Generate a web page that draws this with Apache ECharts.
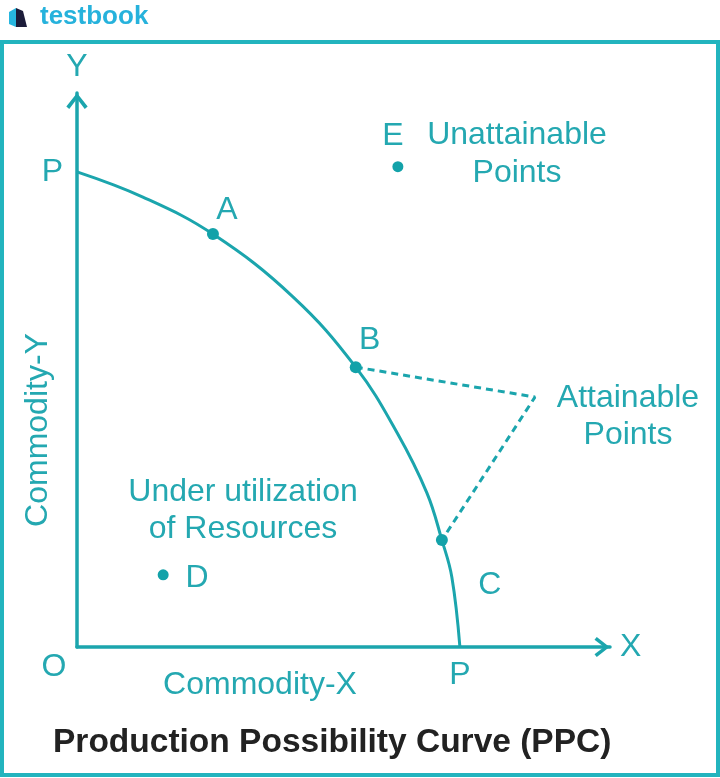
<!DOCTYPE html>
<html>
<head>
<meta charset="utf-8">
<script src="https://cdn.jsdelivr.net/npm/echarts@6/dist/echarts.min.js"></script>
<style>
  html, body { margin: 0; padding: 0; background: #ffffff; }
  #chart { width: 720px; height: 778px; }
</style>
</head>
<body>
<div id="chart"></div>
<script>
// ---------- data (units: P = 10 on each axis) ----------
const curveX = [0, 1.72, 3.55, 5.64, 7.28, 8.36, 9.14, 9.53, 9.79, 10];
const curveY = [10, 9.47, 8.69, 7.37, 5.89, 4.51, 3.24, 2.25, 1.47, 0];

const curvePointNames = ['A', 'B', 'C'];
const curvePointX = [3.55, 7.28, 9.53];
const curvePointY = [8.69, 5.89, 2.25];

const otherPointNames = ['D', 'E'];
const otherPointX = [2.25, 8.38];
const otherPointY = [1.52, 10.11];

const attainableGuideX = [7.28, 11.96, 9.53];
const attainableGuideY = [5.89, 5.26, 2.25];

const xMax = 13.92;
const yMax = 11.66;
const tickValues = [10];
const xTickLabels = ['P'];
const yTickLabels = ['P'];

const axisName = { x: 'X', y: 'Y' };
const axisTitles = { x: 'Commodity-X', y: 'Commodity-Y' };
const originLabel = 'O';
const annotations = {
  unattainable: 'Unattainable\nPoints',
  attainable: 'Attainable\nPoints',
  under: 'Under utilization\nof Resources'
};
const chartTitle = 'Production Possibility Curve (PPC)';
const brand = 'testbook';

// ---------- styles ----------
const TEAL = '#1ba5ad';
const TEXT = '#24a8b1';
const BORDER = '#22b4be';
const FONT = "'Liberation Sans', Arial, sans-serif";
const FS = 32;
const chevron = 'path://M0 14 L11 0 L22 14 L19 16.5 L11 6 L3 16.5 Z';

const labelOffsets = {
  A: [14, -24], B: [14, -27], C: [48, 45], D: [34, 3], E: [-5, -30]
};

function zip(xs, ys) { return xs.map((x, i) => [x, ys[i]]); }
function tickFormatter(labels) {
  return function (v) {
    const i = tickValues.findIndex(t => Math.abs(t - v) < 1e-9);
    return i >= 0 ? labels[i] : '';
  };
}
function pointItems(names, xs, ys) {
  return names.map((n, i) => ({
    name: n,
    value: [xs[i], ys[i]],
    label: { offset: labelOffsets[n] }
  }));
}

const labelStyle = {
  show: true, position: 'inside', formatter: '{b}',
  color: TEXT, fontSize: FS, fontFamily: FONT
};

const chart = echarts.init(document.getElementById('chart'), null, { renderer: 'canvas' });
chart.setOption({
  animation: false,
  backgroundColor: '#ffffff',
  title: {
    text: chartTitle,
    left: 53, top: 726, padding: 0,
    textStyle: { fontSize: 33.5, fontWeight: 'bold', color: '#222222', fontFamily: FONT }
  },
  grid: { left: 77, right: 110, top: 93, bottom: 131, containLabel: false },
  xAxis: {
    type: 'value', min: 0, max: xMax, interval: 10,
    name: axisName.x, nameLocation: 'end', nameGap: 10,
    nameTextStyle: { color: TEXT, fontSize: FS, fontFamily: FONT, verticalAlign: 'middle', padding: [4, 0, 0, 0] },
    axisLine: {
      show: true, onZero: false,
      symbol: ['none', chevron], symbolSize: [20, 16], symbolOffset: [0, -8],
      lineStyle: { color: TEAL, width: 3.5 }
    },
    axisTick: { show: false },
    splitLine: { show: false },
    axisLabel: {
      show: true, margin: 12, formatter: tickFormatter(xTickLabels),
      color: TEXT, fontSize: FS, fontFamily: FONT,
      showMinLabel: true, showMaxLabel: true
    }
  },
  yAxis: {
    type: 'value', min: 0, max: yMax, interval: 10,
    name: axisName.y, nameLocation: 'end', nameGap: 10,
    nameTextStyle: { color: TEXT, fontSize: FS, fontFamily: FONT, align: 'center' },
    axisLine: {
      show: true, onZero: false,
      symbol: ['none', chevron], symbolSize: [22, 16], symbolOffset: [0, -8],
      lineStyle: { color: TEAL, width: 3.5 }
    },
    axisTick: { show: false },
    splitLine: { show: false },
    axisLabel: {
      show: true, margin: 14, formatter: tickFormatter(yTickLabels),
      color: TEXT, fontSize: FS, fontFamily: FONT, verticalAlign: 'middle',
      padding: [6, 0, 0, 0]
    }
  },
  series: [
    {
      type: 'line', name: 'PPC',
      data: zip(curveX, curveY),
      smooth: 0.4, showSymbol: false, silent: true,
      lineStyle: { color: TEAL, width: 3 }, z: 2
    },
    {
      type: 'line', name: 'Attainable guide',
      data: zip(attainableGuideX, attainableGuideY),
      showSymbol: false, silent: true,
      lineStyle: { color: TEAL, width: 3, type: [7, 5] }, z: 2
    },
    {
      type: 'scatter', name: 'On curve',
      data: pointItems(curvePointNames, curvePointX, curvePointY),
      symbolSize: 12, itemStyle: { color: '#13a2a9', opacity: 1 },
      label: labelStyle, silent: true, z: 3
    },
    {
      type: 'scatter', name: 'Other points',
      data: pointItems(otherPointNames, otherPointX, otherPointY),
      symbolSize: 11, itemStyle: { color: '#13a2a9', opacity: 1 },
      label: labelStyle, silent: true, z: 3
    }
  ],
  graphic: [
    { type: 'rect', shape: { x: 2, y: 42, width: 716, height: 733 },
      style: { fill: 'none', stroke: BORDER, lineWidth: 4 }, silent: true, z: -1 },
    { type: 'polygon', shape: { points: [[9, 12], [16, 8], [16, 27], [9, 24]] },
      style: { fill: '#27b6df' }, silent: true },
    { type: 'polygon', shape: { points: [[16, 8], [23, 11], [27, 27], [16, 27]] },
      style: { fill: '#1c1c3a' }, silent: true },
    { type: 'text', style: { text: brand, x: 40, y: 17, textVerticalAlign: 'middle',
      fill: '#26b2dc', fontSize: 26, fontWeight: 'bold', fontFamily: FONT }, silent: true },
    { type: 'text', style: { text: annotations.unattainable, x: 517, y: 116, textAlign: 'center',
      textVerticalAlign: 'top', lineHeight: 38, fill: TEXT, fontSize: FS, fontFamily: FONT }, silent: true },
    { type: 'text', style: { text: annotations.attainable, x: 628, y: 380, textAlign: 'center',
      textVerticalAlign: 'top', lineHeight: 37, fill: TEXT, fontSize: FS, fontFamily: FONT }, silent: true },
    { type: 'text', style: { text: annotations.under, x: 243, y: 474, textAlign: 'center',
      textVerticalAlign: 'top', lineHeight: 37, fill: TEXT, fontSize: FS, fontFamily: FONT }, silent: true },
    { type: 'text', style: { text: axisTitles.x, x: 260, y: 685, textAlign: 'center',
      textVerticalAlign: 'middle', fill: TEXT, fontSize: FS, fontFamily: FONT }, silent: true },
    { type: 'text', x: 38, y: 430, rotation: Math.PI / 2,
      style: { text: axisTitles.y, x: 0, y: 0, textAlign: 'center',
      textVerticalAlign: 'middle', fill: TEXT, fontSize: FS, fontFamily: FONT }, silent: true },
    { type: 'text', style: { text: originLabel, x: 54, y: 667, textAlign: 'center',
      textVerticalAlign: 'middle', fill: TEXT, fontSize: FS, fontFamily: FONT }, silent: true }
  ]
});
</script>
</body>
</html>
